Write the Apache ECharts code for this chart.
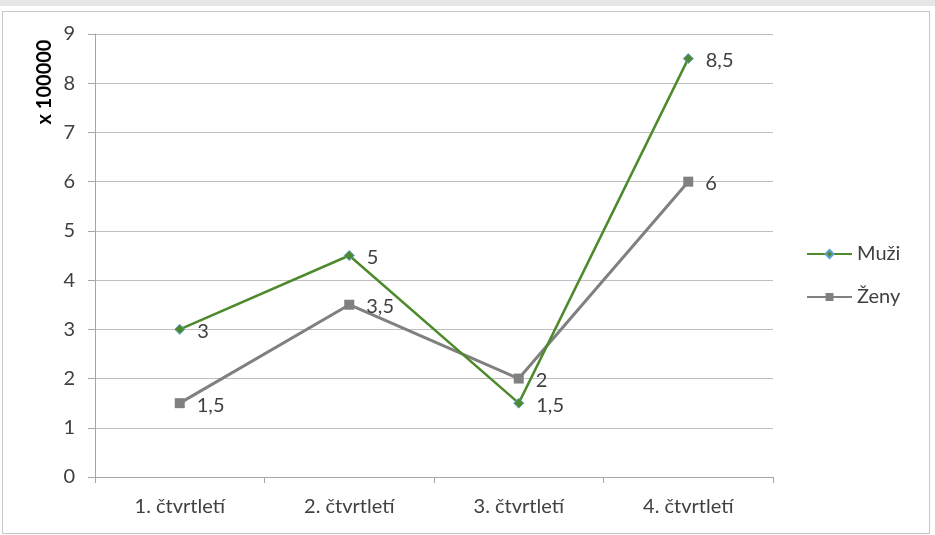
<!DOCTYPE html>
<html><head><meta charset="utf-8">
<script src="https://cdn.jsdelivr.net/npm/echarts@6/dist/echarts.min.js"></script>
<style>
html,body{margin:0;padding:0;background:#fff;}
#top{position:absolute;left:0;top:0;width:935px;height:6px;background:#e6e6e6;}
#frame{position:absolute;left:2px;top:11px;width:926px;height:521px;border:1px solid #c8c8c8;}
#c{position:absolute;left:0;top:0;width:935px;height:535px;}
</style></head>
<body><div id="top"></div><div id="frame"></div><div id="c"></div>
<script>
var categories = ['1. čtvrtletí', '2. čtvrtletí', '3. čtvrtletí', '4. čtvrtletí'];
var muzi = [3, 4.5, 1.5, 8.5];
var zeny = [1.5, 3.5, 2, 6];
var muziLabels = ['3', '5', '1,5', '8,5'];
var zenyLabels = ['1,5', '3,5', '2', '6'];
var yTicks = ['0','1','2','3','4','5','6','7','8','9'];

var font = 'Lato, "Open Sans", sans-serif';
var chart = echarts.init(document.getElementById('c'));
chart.setOption({
  animation: false,
  backgroundColor: 'transparent',
  grid: {left: 95, right: 162, top: 34, bottom: 58},
  legend: {
    orient: 'vertical', left: 801, top: 239, itemGap: 23,
    itemWidth: 45, itemHeight: 10,
    textStyle: {fontFamily: font, fontSize: 20, color: '#404040'},
    data: ['Muži', 'Ženy']
  },
  xAxis: {
    type: 'category', data: categories,
    axisLine: {lineStyle: {color: '#a6a6a6'}},
    axisTick: {show: true, length: 6, lineStyle: {color: '#a6a6a6'}},
    axisLabel: {fontFamily: font, fontSize: 20, color: '#404040', margin: 20}
  },
  yAxis: {
    type: 'value', min: 0, max: 9, interval: 1,
    axisLine: {show: true, lineStyle: {color: '#a6a6a6'}},
    axisTick: {show: true, length: 7, lineStyle: {color: '#a6a6a6'}},
    axisLabel: {fontFamily: font, fontSize: 20, color: '#404040', margin: 20,
      formatter: function (v) { return yTicks[Math.round(v)]; }},
    splitLine: {lineStyle: {color: '#bfbfbf'}}
  },
  graphic: [{
    type: 'text', x: 45, y: 82, rotation: Math.PI / 2,
    style: {text: 'x 100000', font: 'bold 20px ' + font, fill: '#000',
      textAlign: 'center', textVerticalAlign: 'middle'}
  }],
  series: [{
    name: 'Ženy', type: 'line', data: zeny,
    symbol: 'rect', symbolSize: 10,
    lineStyle: {color: '#808080', width: 3},
    itemStyle: {color: '#808080'},
    label: {show: true, position: 'right', distance: 12, offset: [0, 2], fontFamily: font, fontSize: 20, color: '#404040',
      formatter: function (p) { return zenyLabels[p.dataIndex]; }}
  }, {
    name: 'Muži', type: 'line', data: muzi,
    symbol: 'diamond', symbolSize: 10,
    lineStyle: {color: '#4e8a2b', width: 2.5},
    itemStyle: {color: '#4e8a2b', borderColor: '#5aa0d0', borderWidth: 1},
    label: {show: true, position: 'right', distance: 12, offset: [0, 2], fontFamily: font, fontSize: 20, color: '#404040',
      formatter: function (p) { return muziLabels[p.dataIndex]; }}
  }]
});
</script></body></html>
